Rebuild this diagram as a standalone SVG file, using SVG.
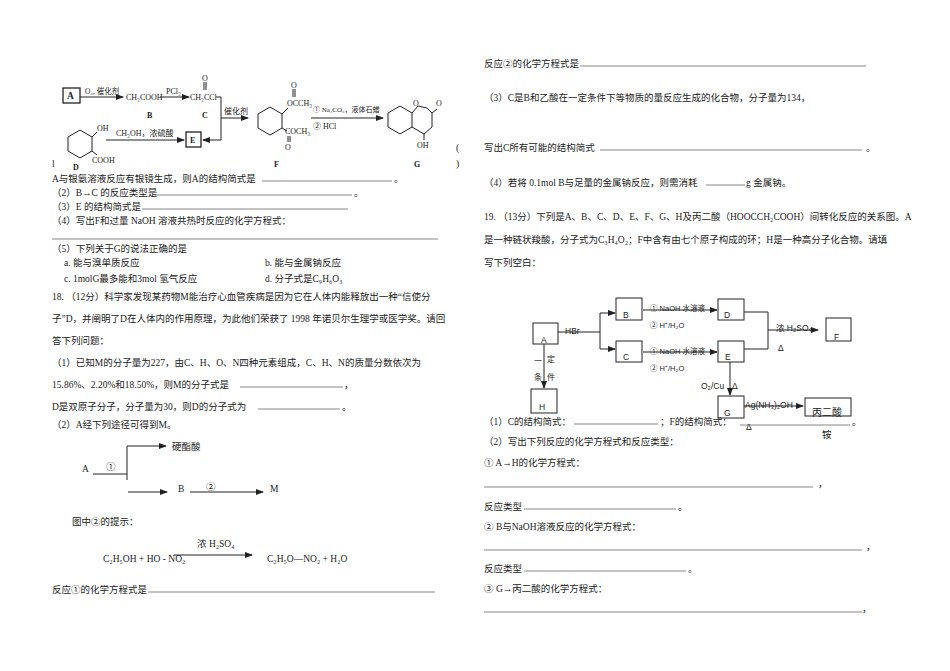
<svg xmlns="http://www.w3.org/2000/svg" width="950" height="671" viewBox="0 0 950 671">
<style>
text{font-family:"Liberation Serif","Noto Sans CJK SC",serif;font-size:9.5px;fill:#222}
.s{font-family:"Liberation Sans","Noto Sans CJK SC",sans-serif;font-size:8.5px}
.b{font-weight:bold}
.u{stroke:#555;stroke-width:0.7}
.ln{stroke:#222;stroke-width:1;fill:none}
.bx{stroke:#222;stroke-width:1;fill:#fff}
</style>
<defs><marker id="ar" markerWidth="8" markerHeight="6" refX="7" refY="3" orient="auto" markerUnits="userSpaceOnUse"><path d="M0,0L8,3L0,6z" fill="#222"/></marker></defs>
<rect width="950" height="671" fill="#fff"/>

<!-- top scheme -->
<g id="scheme1">
<rect class="bx" x="63" y="88" width="17" height="15" style="stroke-width:1.3"/>
<text x="67" y="99" class="b">A</text>
<line class="ln" x1="80" y1="97" x2="123" y2="97" marker-end="url(#ar)"/>
<text x="85" y="94" style="font-size:7.5px">O₂, 催化剂</text>
<text x="126" y="100" style="font-size:8px">CH₃COOH</text>
<text x="147" y="118" class="b" style="font-size:8px">B</text>
<line class="ln" x1="160" y1="97" x2="189" y2="97" marker-end="url(#ar)"/>
<text x="166" y="94" style="font-size:8px">PCl₃</text>
<text x="190" y="100" style="font-size:8px">CH₃CCl</text>
<line class="ln" x1="204" y1="90" x2="204" y2="82"/><line class="ln" x1="206" y1="90" x2="206" y2="82"/>
<text x="202" y="81" style="font-size:8px">O</text>
<text x="202" y="118" class="b" style="font-size:8px">C</text>
<polyline class="ln" points="216,97 221,97 221,140 203,140" marker-end="url(#ar)"/>
<line class="ln" x1="221" y1="118" x2="248" y2="118" marker-end="url(#ar)"/>
<text x="224" y="114" style="font-size:8px">催化剂</text>
<rect class="bx" x="186" y="132" width="15" height="15" style="stroke-width:1.3"/>
<text x="190" y="143" class="b" style="font-size:8px">E</text>
<polygon class="ln" points="80,130 92,137 92,151 80,158 68,151 68,137"/>
<line class="ln" x1="92" y1="137" x2="97" y2="132"/><text x="97" y="131" style="font-size:8px">OH</text>
<line class="ln" x1="92" y1="151" x2="97" y2="155"/><text x="92" y="163" style="font-size:8px">COOH</text>
<text x="73" y="170" class="b" style="font-size:8px">D</text>
<text x="52" y="167">l</text>
<line class="ln" x1="106" y1="140" x2="184" y2="140" marker-end="url(#ar)"/>
<text x="116" y="136" style="font-size:8px">CH₃OH，浓硫酸</text>
<polygon class="ln" points="270,107 282,114 282,128 270,135 258,128 258,114"/>
<line class="ln" x1="282" y1="114" x2="288" y2="108"/><text x="287" y="106" style="font-size:8px">OCCH₃</text>
<line class="ln" x1="293" y1="97" x2="293" y2="89"/><line class="ln" x1="295" y1="97" x2="295" y2="89"/><text x="291" y="88" style="font-size:8px">O</text>
<line class="ln" x1="282" y1="128" x2="287" y2="131"/><text x="285" y="134" style="font-size:8px">COCH₃</text>
<line class="ln" x1="288" y1="136" x2="288" y2="142"/><line class="ln" x1="290" y1="136" x2="290" y2="142"/><text x="285" y="150" style="font-size:8px">O</text>
<text x="274" y="167" class="b" style="font-size:8px">F</text>
<line class="ln" x1="311" y1="118" x2="383" y2="118" marker-end="url(#ar)"/>
<text x="313" y="112" style="font-size:7px">① Na₂CO₃，液体石蜡</text>
<text x="313" y="129" style="font-size:8px">② HCl</text>
<polygon class="ln" points="400,106 412,113 412,127 400,134 388,127 388,113"/>
<polyline class="ln" points="412,113 418,106 427,108 432,113 432,127 424,134 412,127"/>
<line class="ln" x1="432" y1="113" x2="437" y2="109"/>
<text x="413" y="106" style="font-size:8px">O</text><text x="436" y="106" style="font-size:8px">O</text>
<line class="ln" x1="424" y1="134" x2="424" y2="140"/><text x="417" y="148" style="font-size:8px">OH</text>
<text x="414" y="167" class="b" style="font-size:8px">G</text>
<text x="456" y="151">(</text><text x="456" y="167">)</text>
</g>

<!-- left column text -->
<g id="left">
<text x="52" y="182">A与银氨溶液反应有银镜生成，则A的结构简式是</text><line class="u" x1="262" y1="181" x2="392" y2="181"/><text x="394" y="182">。</text>
<text x="52" y="196">（2）B→C 的反应类型是</text><line class="u" x1="155" y1="195" x2="352" y2="195"/><text x="354" y="196">。</text>
<text x="52" y="210">（3）E 的结构简式是</text><line class="u" x1="142" y1="209" x2="348" y2="209"/>
<text x="52" y="224">（4）写出F和过量 NaOH 溶液共热时反应的化学方程式：</text>
<line class="u" x1="52" y1="239" x2="438" y2="239"/>
<text x="52" y="252">（5）下列关于G的说法正确的是</text>
<text x="64" y="266">a. 能与溴单质反应</text><text x="265" y="266">b. 能与金属钠反应</text>
<text x="64" y="282">c. 1molG最多能和3mol 氢气反应</text><text x="265" y="282">d. 分子式是C₉H₆O₃</text>
<text x="52" y="300">18. （12分）科学家发现某药物M能治疗心血管疾病是因为它在人体内能释放出一种“信使分</text>
<text x="52" y="322">子”D，并阐明了D在人体内的作用原理，为此他们荣获了 1998 年诺贝尔生理学或医学奖。请回</text>
<text x="52" y="344">答下列问题：</text>
<text x="52" y="366">（1）已知M的分子量为227，由C、H、O、N四种元素组成，C、H、N的质量分数依次为</text>
<text x="52" y="388">15.86%、2.20%和18.50%，则M的分子式是</text><line class="u" x1="240" y1="387" x2="343" y2="387"/><text x="344" y="388">，</text>
<text x="52" y="410">D是双原子分子，分子量为30，则D的分子式为</text><line class="u" x1="258" y1="409" x2="340" y2="409"/><text x="342" y="410">。</text>
<text x="52" y="428">（2）A经下列途径可得到M。</text>
<text x="82" y="472">A</text><text x="106" y="470">①</text>
<line class="ln" x1="93" y1="474" x2="127" y2="474"/>
<line class="ln" x1="127" y1="446" x2="127" y2="480"/>
<line class="ln" x1="127" y1="446" x2="166" y2="446" marker-end="url(#ar)"/>
<text x="172" y="450">硬酯酸</text>
<line class="ln" x1="128" y1="492" x2="167" y2="492" marker-end="url(#ar)"/>
<text x="178" y="492">B</text><text x="206" y="490">②</text>
<line class="ln" x1="190" y1="492" x2="263" y2="492" marker-end="url(#ar)"/>
<text x="270" y="492">M</text>
<text x="72" y="525">图中②的提示：</text>
<text x="197" y="547">浓 H₂SO₄</text>
<text x="103" y="562">C₂H₅OH + HO - NO₂</text>
<line class="ln" x1="174" y1="555" x2="252" y2="555" marker-end="url(#ar)"/>
<text x="267" y="562">C₂H₅O—NO₂ + H₂O</text>
<text x="52" y="593">反应①的化学方程式是</text><line class="u" x1="148" y1="592" x2="435" y2="592"/>
</g>

<!-- right column text -->
<g id="right">
<text x="484" y="67">反应②的化学方程式是</text><line class="u" x1="580" y1="66" x2="866" y2="66"/>
<text x="484" y="101">（3）C是B和乙酸在一定条件下等物质的量反应生成的化合物，分子量为134，</text>
<text x="484" y="151">写出C所有可能的结构简式</text><line class="u" x1="600" y1="150" x2="862" y2="150"/><text x="866" y="151">。</text>
<text x="484" y="186">（4）若将 0.1mol B与足量的金属钠反应，则需消耗</text><line class="u" x1="706" y1="185" x2="745" y2="185"/><text x="746" y="186">g 金属钠。</text>
<text x="484" y="220">19. （13分）下列是A、B、C、D、E、F、G、H及丙二酸（HOOCCH₂COOH）间转化反应的关系图。A</text>
<text x="484" y="243">是一种链状羧酸，分子式为C₃H₄O₂；F中含有由七个原子构成的环；H是一种高分子化合物。请填</text>
<text x="484" y="266">写下列空白：</text>
</g>

<!-- right scheme nodes -->
<g id="nA"><rect class="bx" x="533" y="323" width="25" height="21"/><text class="s" x="541" y="343">A</text></g>
<g id="nB"><rect class="bx" x="616" y="298" width="26" height="22"/><text class="s" x="623" y="318">B</text></g>
<g id="nC"><rect class="bx" x="616" y="341" width="26" height="21"/><text class="s" x="623" y="360">C</text></g>
<g id="nD"><rect class="bx" x="718" y="299" width="26" height="21"/><text class="s" x="724" y="318">D</text></g>
<g id="nE"><rect class="bx" x="718" y="341" width="26" height="21"/><text class="s" x="725" y="360">E</text></g>
<g id="nF"><rect class="bx" x="826" y="318" width="25" height="23"/><text class="s" x="834" y="340">F</text></g>
<g id="nH"><rect class="bx" x="531" y="389" width="26" height="24"/><text class="s" x="539" y="410">H</text></g>
<g id="nG"><rect class="bx" x="718" y="396" width="26" height="22"/><text class="s" x="724" y="416">G</text></g>
<g id="nM"><rect class="bx" x="805" y="398" width="46" height="18"/><text x="812" y="416" style="font-size:10px">丙二酸</text></g>

<g id="edges">
<line class="ln" x1="558" y1="332" x2="600" y2="332"/>
<text class="s" x="565" y="334">HBr</text>
<line class="ln" x1="600" y1="313" x2="600" y2="349"/>
<line class="ln" x1="600" y1="313" x2="615" y2="313" marker-end="url(#ar)"/>
<line class="ln" x1="600" y1="349" x2="615" y2="349" marker-end="url(#ar)"/>
<line class="ln" x1="643" y1="310" x2="717" y2="310" marker-end="url(#ar)"/>
<text class="s" x="650" y="311" style="font-size:7.5px">① NaOH 水溶液</text>
<text class="s" x="650" y="328" style="font-size:7.5px">② H⁺/H₂O</text>
<line class="ln" x1="643" y1="352" x2="717" y2="352" marker-end="url(#ar)"/>
<text class="s" x="650" y="354" style="font-size:7.5px">① NaOH 水溶液</text>
<text class="s" x="650" y="371" style="font-size:7.5px">② H⁺/H₂O</text>
<polyline class="ln" points="744,312 768,312 768,349 744,349"/>
<line class="ln" x1="768" y1="330" x2="818" y2="330" marker-end="url(#ar)"/>
<text class="s" x="776" y="331">浓 H₂SO₄</text>
<text class="s" x="778" y="351">Δ</text>
<line class="ln" x1="544" y1="344" x2="544" y2="388" marker-end="url(#ar)"/>
<text x="534" y="364" style="font-size:8px">一</text><text x="547" y="362" style="font-size:8px">定</text>
<text x="534" y="380" style="font-size:8px">条</text><text x="547" y="380" style="font-size:8px">件</text>
<line class="ln" x1="730" y1="362" x2="730" y2="395" marker-end="url(#ar)"/>
<text class="s" x="701" y="389">O₂/Cu</text><text class="s" x="732" y="389">Δ</text>
<line class="ln" x1="744" y1="406" x2="803" y2="406" marker-end="url(#ar)"/>
<text class="s" x="745" y="408">Ag(NH₃)₂OH</text>
<text class="s" x="746" y="430">Δ</text>
<text x="822" y="438">铵</text>
</g>

<g id="right2">
<text x="484" y="425">（1）C的结构简式：</text><line class="u" x1="574" y1="424" x2="658" y2="424"/><text x="660" y="425">；F的结构简式：</text><line class="u" x1="740" y1="425" x2="850" y2="425"/><text x="852" y="425">。</text>
<text x="484" y="445">（2）写出下列反应的化学方程式和反应类型：</text>
<text x="484" y="466">① A→H的化学方程式：</text>
<line class="u" x1="484" y1="487" x2="813" y2="487"/><text x="818" y="487">，</text>
<text x="484" y="510">反应类型</text><line class="u" x1="524" y1="509" x2="676" y2="509"/><text x="678" y="510">。</text>
<text x="484" y="530">② B与NaOH溶液反应的化学方程式：</text>
<line class="u" x1="484" y1="550" x2="862" y2="550"/><text x="866" y="550">，</text>
<text x="484" y="572">反应类型</text><line class="u" x1="524" y1="571" x2="686" y2="571"/><text x="688" y="572">。</text>
<text x="484" y="592">③ G→丙二酸的化学方程式：</text>
<line class="u" x1="484" y1="612" x2="862" y2="612"/><text x="862" y="612">，</text>
</g>
</svg>
